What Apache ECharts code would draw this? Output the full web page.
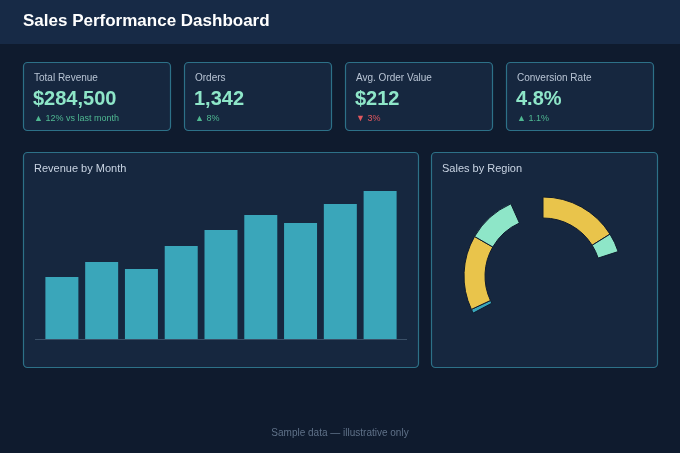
<!DOCTYPE html>
<html lang="en" style="height: 100%">
  <head>
    <meta charset="utf-8" />
    <style>
      html, body { margin: 0; height: 100%; background: #0f1b2e; }
      #container { width: 680px; height: 453px; }
    </style>
  </head>
  <body>
    <div id="container"></div>
    <script src="https://cdn.jsdelivr.net/npm/echarts@6/dist/echarts.min.js"></script>
    <script type="text/javascript">
      var months = ["Jan", "Feb", "Mar", "Apr", "May", "Jun", "Jul", "Aug", "Sep"];
      var revenue = [62, 77, 70, 93, 109, 124, 116, 135, 148];

      var kpiLabels = ["Total Revenue", "Orders", "Avg. Order Value", "Conversion Rate"];
      var kpiValues = ["$284,500", "1,342", "$212", "4.8%"];
      var kpiDeltas = ["▲ 12% vs last month", "▲ 8%", "▼ 3%", "▲ 1.1%"];
      var kpiUp = [true, true, false, true];

      // region ring as drawn (segment sizes in degrees, gaps left empty)
      var ringValues = [58, 14, 170, 3, 55, 36, 24];
      var ringColors = ["#e9c44b", "#8ee6c8", "transparent", "#3aa6ba", "#e9c44b", "#8ee6c8", "transparent"];

      var font = "Liberation Sans, Arial, sans-serif";
      var graphics = [
        { type: "rect", shape: { x: 0, y: 0, width: 680, height: 44 }, style: { fill: "#172a46" } },
        { type: "text", left: 23, top: 13, style: { text: "Sales Performance Dashboard", fill: "#ffffff", font: "bold 17px " + font } },
        { type: "rect", shape: { x: 23.5, y: 152.5, width: 395, height: 215, r: 4 }, style: { fill: "#16273f", stroke: "#2d7188", lineWidth: 1.2 } },
        { type: "rect", shape: { x: 431.5, y: 152.5, width: 226, height: 215, r: 4 }, style: { fill: "#16273f", stroke: "#2d7188", lineWidth: 1.2 } },
        { type: "text", left: 34, top: 163, style: { text: "Revenue by Month", fill: "#c9d4e3", font: "11px " + font } },
        { type: "text", left: 442, top: 163, style: { text: "Sales by Region", fill: "#c9d4e3", font: "11px " + font } },
        { type: "line", shape: { x1: 35, y1: 339.5, x2: 407, y2: 339.5 }, style: { stroke: "#3b5068", lineWidth: 1 } },
        { type: "text", left: "center", top: 428, style: { text: "Sample data — illustrative only", fill: "#5f7188", font: "10px " + font } }
      ];
      var cardX = [23, 184, 345, 506];
      kpiLabels.forEach(function (lab, i) {
        graphics.push(
          { type: "rect", shape: { x: cardX[i] + 0.5, y: 62.5, width: 147, height: 68, r: 4 }, style: { fill: "#16273f", stroke: "#2d7188", lineWidth: 1.2 } },
          { type: "text", left: cardX[i] + 11, top: 73, style: { text: lab, fill: "#b8c4d4", font: "10px " + font } },
          { type: "text", left: cardX[i] + 10, top: 89, style: { text: kpiValues[i], fill: "#8ee6c8", font: "bold 20px " + font } },
          { type: "text", left: cardX[i] + 11, top: 114, style: { text: kpiDeltas[i], fill: kpiUp[i] ? "#4fb892" : "#e0575e", font: "9px " + font } }
        );
      });

      var myChart = echarts.init(document.getElementById("container"), null, { renderer: "canvas" });
      var option = {
        backgroundColor: "#0f1b2e",
        animation: false,
        graphic: graphics,
        grid: { left: 42, right: 280, top: 189, bottom: 114 },
        xAxis: {
          type: "category",
          data: months,
          axisLine: { show: false },
          axisTick: { show: false },
          axisLabel: { show: false }
        },
        yAxis: { type: "value", min: 0, max: 150, show: false, splitLine: { show: false } },
        series: [
          {
            type: "bar",
            data: revenue,
            barWidth: 33,
            itemStyle: { color: "#3aa6ba" }
          },
          {
            type: "pie",
            center: [543, 276],
            radius: [58, 79],
            startAngle: 90,
            label: { show: false },
            silent: true,
            itemStyle: { borderColor: "#0f1b2e", borderWidth: 1 },
            data: ringValues.map(function (v, i) {
              return {
                value: v,
                itemStyle: ringColors[i] === "transparent"
                  ? { color: "transparent", borderWidth: 0 }
                  : { color: ringColors[i] }
              };
            })
          }
        ]
      };
      myChart.setOption(option);
    </script>
  </body>
</html>
